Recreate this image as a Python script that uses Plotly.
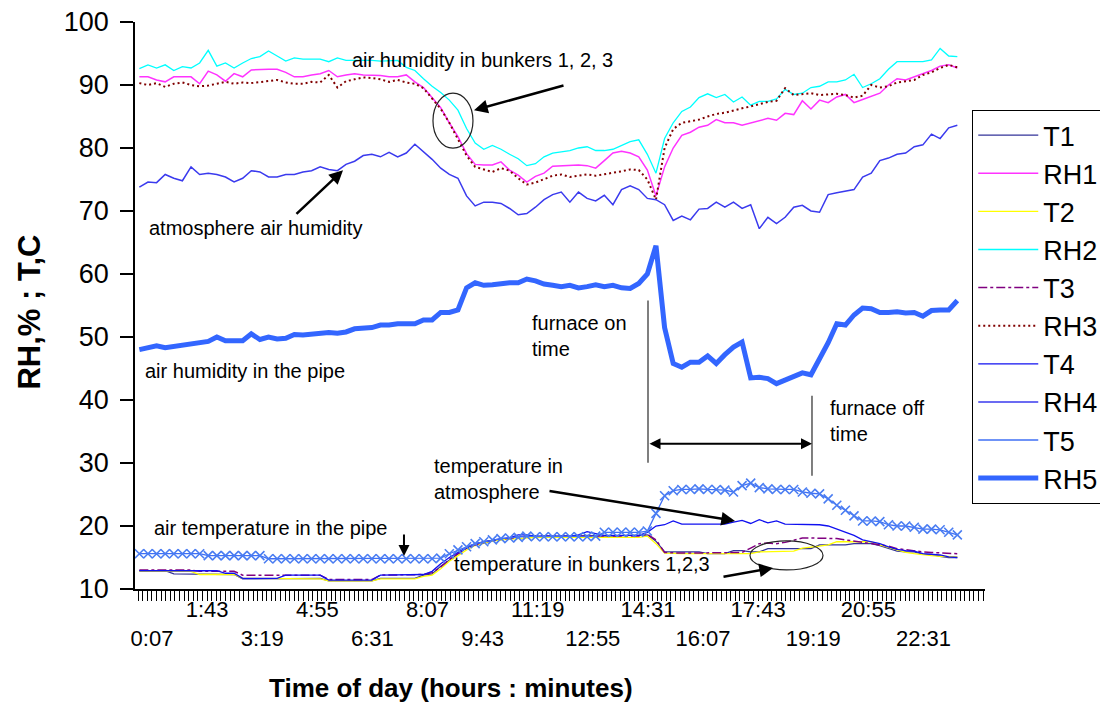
import plotly.graph_objects as go

# sample times (minutes from midnight), one reading every 15 min
time_min = list(range(-15, 1411, 15))

tick_vals = [7, 103, 199, 295, 391, 487, 583, 679, 775, 871, 967, 1063, 1159, 1255, 1351]
tick_labels = ["0:07", "1:43", "3:19", "4:55", "6:31", "8:07", "9:43", "11:19",
               "12:55", "14:31", "16:07", "17:43", "19:19", "20:55", "22:31"]

T1 = [12.9, 12.9, 12.9, 12.9, 12.4, 12.4, 12.4, 12.3, 12.3, 12.3,
      12.3, 12.3, 11.6, 11.6, 11.6, 11.6, 11.6, 11.7, 11.7, 11.7,
      11.7, 11.7, 11.3, 11.3, 11.3, 11.3, 11.3, 11.3, 11.7, 11.7,
      11.7, 11.7, 11.7, 12.2, 12.4, 13.6, 14.6, 15.6, 16.5, 17.1,
      17.5, 17.7, 17.8, 18.0, 18.3, 18.3, 18.3, 18.3, 18.4, 18.4,
      18.4, 18.4, 18.5, 18.4, 18.4, 18.4, 18.5, 18.5, 18.5, 18.6,
      17.6, 15.9, 15.9, 15.9, 15.9, 15.9, 15.6, 15.6, 15.6, 16.1,
      16.1, 15.9, 15.9, 16.4, 16.4, 16.4, 16.4, 16.4, 16.4, 17.0,
      17.0, 17.0, 17.0, 17.2, 17.2, 17.2, 16.9, 16.5, 16.0, 15.9,
      15.9, 15.5, 15.5, 15.2, 15.0, 15.0]
RH1 = [91.3, 91.3, 90.8, 90.5, 91.3, 91.3, 91.3, 90.2, 92.2, 91.6,
       90.6, 91.8, 91.3, 92.4, 92.5, 92.5, 92.5, 92.0, 91.3, 91.3,
       91.6, 91.8, 92.3, 91.3, 91.6, 91.8, 91.6, 91.6, 91.5, 91.3,
       91.3, 91.6, 90.5, 89.6, 88.0, 86.4, 84.0, 81.8, 79.1, 77.4,
       77.3, 77.3, 77.8, 76.5, 75.7, 74.6, 75.5, 76.0, 77.1, 77.2,
       77.3, 77.3, 77.2, 76.8, 78.0, 79.2, 79.5, 79.2, 78.6, 76.5,
       72.4, 77.0, 80.0, 82.0, 82.5, 83.3, 83.6, 84.5, 84.0, 84.0,
       83.6, 84.0, 84.4, 84.7, 84.4, 85.5, 85.3, 87.5, 86.2, 87.6,
       87.2, 88.1, 88.5, 87.2, 87.7, 88.2, 88.7, 90.0, 91.0, 90.8,
       91.3, 91.8, 92.3, 93.0, 93.2, 92.7]
T2 = [12.8, 12.8, 12.8, 12.8, 12.8, 12.8, 12.8, 12.3, 12.3, 12.3,
      12.3, 12.3, 11.7, 11.7, 11.7, 11.7, 11.7, 11.6, 11.6, 11.6,
      11.6, 11.6, 11.3, 11.3, 11.3, 11.3, 11.3, 11.3, 11.6, 11.6,
      11.6, 11.6, 11.6, 12.0, 12.2, 13.2, 14.4, 15.3, 16.2, 16.9,
      17.3, 17.6, 17.8, 17.9, 18.1, 18.2, 18.2, 18.2, 18.2, 18.2,
      18.2, 18.2, 18.2, 18.2, 18.2, 18.2, 18.2, 18.2, 18.2, 18.4,
      17.2, 15.7, 15.6, 15.6, 15.6, 15.6, 15.6, 15.6, 15.6, 15.6,
      15.6, 15.6, 15.9, 15.9, 15.9, 15.9, 16.0, 16.5, 16.6, 16.8,
      17.0, 17.5, 17.5, 17.5, 17.5, 17.5, 17.0, 16.6, 16.2, 15.8,
      15.6, 15.4, 15.3, 15.2, 15.1, 15.1]
RH2 = [92.6, 93.2, 92.7, 93.2, 92.3, 92.9, 92.7, 93.5, 95.5, 93.0,
       93.5, 92.7, 93.5, 94.2, 94.5, 95.4, 94.6, 93.8, 94.3, 94.1,
       94.1, 94.1, 93.7, 94.3, 93.9, 93.9, 94.0, 93.9, 93.8, 93.9,
       93.9, 92.8, 92.3, 91.0, 89.8, 88.8, 87.6, 86.0, 83.1, 80.8,
       79.8, 80.4, 79.8, 79.0, 78.3, 77.2, 77.5, 78.6, 79.2, 79.4,
       79.6, 80.0, 80.2, 79.6, 79.6, 79.8, 80.4, 81.0, 81.3, 79.0,
       76.0, 81.5, 84.0, 85.8, 86.5, 88.0, 88.6, 88.0, 88.5, 87.3,
       88.1, 86.8, 87.4, 87.4, 87.8, 89.3, 88.5, 88.7, 89.6, 89.8,
       90.5, 90.5, 90.8, 91.7, 89.6, 90.2, 91.0, 92.5, 93.7, 93.7,
       93.7, 93.7, 94.0, 95.8, 94.6, 94.5]
T3 = [13.0, 13.0, 13.0, 13.0, 13.0, 13.0, 13.0, 12.8, 12.8, 12.8,
      12.8, 12.8, 12.2, 12.2, 12.2, 12.2, 12.2, 12.2, 12.2, 12.2,
      12.2, 12.2, 11.5, 11.5, 11.5, 11.5, 11.5, 11.5, 12.2, 12.2,
      12.2, 12.2, 12.2, 12.3, 12.6, 13.5, 14.7, 15.6, 16.5, 17.0,
      17.4, 17.7, 17.9, 18.0, 18.2, 18.4, 18.4, 18.4, 18.4, 18.4,
      18.4, 18.4, 18.4, 18.4, 18.4, 18.4, 18.4, 18.4, 18.4, 18.7,
      17.8, 15.8, 15.7, 15.7, 15.7, 15.7, 15.7, 15.7, 15.7, 15.7,
      15.8, 16.5, 17.2, 17.3, 17.2, 17.4, 17.8, 18.1, 18.1, 18.1,
      18.1, 18.0, 17.8, 17.6, 17.4, 17.2, 17.0, 16.8, 16.4, 16.2,
      16.0, 15.9, 15.8, 15.7, 15.6, 15.6]
RH3 = [90.3, 90.0, 90.3, 89.7, 90.2, 90.4, 90.0, 89.8, 89.9, 90.2,
       90.5, 90.2, 90.4, 90.3, 90.5, 90.6, 90.8, 90.4, 90.2, 90.2,
       90.5, 90.4, 91.6, 89.6, 90.6, 90.9, 91.2, 91.1, 90.9, 90.5,
       90.8, 90.4, 90.2, 89.5, 87.8, 86.2, 84.0, 81.5, 78.8, 77.0,
       76.6, 76.2, 76.8, 76.4, 75.2, 74.2, 74.5, 75.0, 75.6, 75.8,
       75.4, 75.6, 75.8, 75.6, 75.8, 76.0, 76.3, 76.6, 76.5, 75.0,
       71.8, 80.0, 83.0, 84.0, 84.2, 84.5, 85.0, 85.4, 85.6, 86.0,
       86.3, 86.6, 87.0, 87.3, 87.5, 89.5, 88.4, 88.6, 88.7, 88.4,
       88.5, 88.6, 88.4, 88.0, 88.3, 90.0, 89.6, 89.8, 90.4, 90.6,
       90.8, 91.6, 92.0, 92.7, 93.2, 92.8]
T4 = [12.9, 12.9, 12.9, 12.9, 12.9, 12.9, 12.9, 12.9, 12.9, 12.9,
      12.5, 12.5, 11.7, 11.7, 11.7, 11.7, 11.7, 12.2, 12.2, 12.2,
      12.2, 12.2, 11.4, 11.4, 11.4, 11.4, 11.4, 11.4, 12.2, 12.2,
      12.2, 12.2, 12.2, 12.3, 12.8, 14.0, 15.0, 15.8, 16.6, 17.2,
      17.5, 17.8, 18.0, 18.1, 18.6, 18.6, 18.4, 18.4, 18.4, 18.4,
      18.4, 18.6, 19.1, 18.8, 18.5, 18.5, 18.5, 18.5, 18.5, 19.0,
      20.0, 20.2, 20.8, 20.3, 20.3, 20.3, 20.3, 20.3, 20.3, 20.6,
      20.9, 20.4, 21.0, 20.5, 20.8, 20.3, 20.3, 20.3, 20.3, 20.2,
      20.0, 19.5, 19.1, 18.5, 17.8, 17.5, 17.2, 16.7, 16.3, 16.1,
      16.0, 15.6, 15.5, 15.4, 15.1, 15.0]
RH4 = [73.8, 74.6, 74.5, 75.8, 75.2, 74.8, 77.0, 75.8, 76.0, 75.8,
       75.4, 74.6, 75.2, 76.4, 76.2, 75.4, 75.4, 75.8, 75.8, 76.2,
       76.4, 77.0, 76.6, 76.4, 77.4, 77.9, 78.8, 79.0, 78.6, 79.3,
       78.6, 79.2, 80.6, 79.4, 78.2, 76.8, 75.8, 75.2, 72.4, 70.8,
       71.4, 71.4, 71.2, 70.4, 69.4, 69.6, 70.6, 71.8, 72.6, 73.0,
       71.4, 73.0, 72.0, 71.6, 72.5, 71.0, 73.4, 74.0, 73.4, 72.0,
       71.8, 71.0, 68.5, 69.2, 68.6, 70.3, 70.4, 71.4, 70.6, 71.4,
       70.4, 71.0, 67.2, 69.0, 68.0, 69.0, 70.6, 70.9, 70.0, 69.8,
       72.6, 72.9, 73.2, 73.4, 75.4, 76.0, 78.0, 78.4, 79.0, 79.2,
       80.2, 80.5, 82.2, 81.5, 83.2, 83.6]
T5 = [15.6, 15.6, 15.6, 15.6, 15.6, 15.6, 15.6, 15.6, 15.3, 15.3,
      15.3, 15.3, 15.3, 15.3, 15.3, 14.8, 14.8, 14.8, 14.8, 14.8,
      14.8, 14.8, 14.8, 14.8, 14.8, 14.8, 14.8, 14.8, 14.8, 14.8,
      14.8, 14.8, 14.8, 14.8, 14.8, 14.9, 15.6, 16.2, 16.7, 17.2,
      17.5, 17.8, 18.0, 18.1, 18.2, 18.4, 18.3, 18.3, 18.3, 18.3,
      18.3, 18.3, 18.3, 18.4, 19.0, 19.0, 19.0, 19.0, 19.0, 19.2,
      22.0, 24.8, 25.6, 25.8, 25.8, 25.9, 25.8, 25.8, 25.7, 25.4,
      26.4, 26.8, 26.1, 25.9, 25.8, 25.8, 25.8, 25.4, 25.2, 25.1,
      24.3, 23.3, 22.5, 21.6, 20.8, 20.8, 20.7, 20.2, 20.0, 20.0,
      19.8, 19.5, 19.5, 19.4, 19.0, 18.6]
RH5 = [48.0, 48.2, 48.6, 48.3, 48.5, 48.9, 48.9, 49.2, 49.3, 50.0,
       49.4, 49.4, 49.4, 50.5, 49.6, 50.0, 49.7, 49.8, 50.4, 50.3,
       50.4, 50.6, 50.7, 50.6, 50.8, 51.3, 51.4, 51.5, 51.9, 51.9,
       52.1, 52.1, 52.1, 52.7, 52.7, 53.9, 53.9, 54.3, 57.8, 58.6,
       58.2, 58.3, 58.5, 58.6, 58.6, 59.2, 58.9, 58.4, 58.2, 58.0,
       58.2, 57.8, 58.0, 58.3, 58.0, 58.2, 57.8, 57.7, 58.5, 60.0,
       64.5, 51.5, 45.8, 45.2, 46.0, 46.0, 47.0, 45.8, 47.2, 48.4,
       49.2, 43.5, 43.6, 43.4, 42.6, 43.2, 43.6, 44.3, 44.0, 46.5,
       49.1, 52.1, 51.9, 53.5, 54.6, 54.5, 53.9, 53.9, 54.0, 53.8,
       53.9, 53.3, 54.2, 54.3, 54.3, 55.8]

FONT = "Liberation Sans, Arial, sans-serif"

fig = go.Figure()

def add_line(name, y, color, width=1.3, dash="solid", legend=True):
    fig.add_trace(go.Scatter(x=time_min, y=y, name=name, mode="lines",
                             line=dict(color=color, width=width, dash=dash),
                             showlegend=legend))

add_line("T1", T1, "#333399")
add_line("RH1", RH1, "#FF33FF", 1.5)
add_line("T2", T2, "#FFFF00")
add_line("RH2", RH2, "#00FFFF")
add_line("T3", T3, "#800080", 1.5, "dashdot")
add_line("RH3", RH3, "#800000", 2, "2px,3px")
add_line("T4", T4, "#1010F0")
add_line("RH4", RH4, "#3A3AEE", 1.5)
add_line("T5", T5, "#3F6FF5", 1.3)
fig.add_trace(go.Scatter(x=time_min, y=T5, mode="markers", showlegend=False,
                         marker=dict(symbol="x-thin", size=9,
                                     line=dict(color="#4A7DF2", width=1.6))))
add_line("RH5", RH5, "#3366FF", 5)

# text annotations
texts = [
    ("air humidity in bunkers 1, 2, 3", 352, 93.96),
    ("atmosphere air humidity", -1.7, 67.24),
    ("air humidity in the pipe", -8.7, 44.67),
    ("furnace on<br>time", 665.5, 50.23),
    ("furnace off<br>time", 1184.7, 36.71),
    ("temperature in<br>atmosphere", 494.8, 27.49),
    ("air temperature in the pipe", 7, 19.70),
    ("temperature in bunkers 1,2,3", 529.6, 13.98),
]
for txt, xx, yy in texts:
    fig.add_annotation(x=xx, y=yy, text=txt, showarrow=False, xanchor="left",
                       yanchor="middle", align="left",
                       font=dict(family=FONT, size=20, color="black"))

# arrows (head x, head y, tail x, tail y)
arrows = [
    (568.0, 86.0, 726.5, 89.98, 2.5),
    (339.8, 76.47, 256.1, 69.31, 2.5),
    (1022.7, 20.81, 696.9, 25.59, 2.5),
    (446.0, 15.25, 446.0, 18.9, 2.0),
    (1088.9, 13.34, 1000.0, 11.91, 2.5),
]
for hx, hy, tx, ty, w in arrows:
    fig.add_annotation(x=hx, y=hy, ax=tx, ay=ty, xref="x", yref="y",
                       axref="x", ayref="y", text="", showarrow=True,
                       arrowhead=2, arrowsize=1.1, arrowwidth=w,
                       arrowcolor="black", standoff=0)
# double arrow between furnace on/off
fig.add_annotation(x=1156.8, y=33.06, ax=871.1, ay=33.06, xref="x", yref="y",
                   axref="x", ayref="y", text="", showarrow=True,
                   arrowhead=2, startarrowhead=2, arrowside="end+start",
                   arrowsize=1.1, startarrowsize=1.1, arrowwidth=2,
                   arrowcolor="black", standoff=0, startstandoff=0)

shapes = [
    dict(type="line", x0=871.1, x1=871.1, y0=30.04, y1=55.8,
         line=dict(color="#555555", width=1.5)),
    dict(type="line", x0=1156.8, x1=1156.8, y0=27.97, y1=40.69,
         line=dict(color="#555555", width=1.5)),
    dict(type="circle", x0=496.5, x1=566.2, y0=79.97, y1=88.71,
         line=dict(color="#222222", width=1.2)),
    dict(type="circle", x0=1048.8, x1=1176.0, y0=13.02, y1=17.63,
         line=dict(color="#222222", width=1.2)),
]

stagger = [(" <br>" + lab) if i % 2 == 0 else lab for i, lab in enumerate(tick_labels)]

fig.update_layout(
    width=1108, height=702,
    margin=dict(l=127, r=131, t=14, b=121, autoexpand=False),
    paper_bgcolor="white", plot_bgcolor="white",
    font=dict(family=FONT, color="black"),
    shapes=shapes,
    showlegend=True,
    legend=dict(x=0.985, y=0.8445, xanchor="left", yanchor="top",
                bordercolor="black", borderwidth=1, bgcolor="white",
                font=dict(family=FONT, size=27, color="black"),
                itemwidth=60, tracegroupgap=0),
    xaxis=dict(range=[-22.6, 1458.2], showgrid=False, zeroline=False,
               showline=True, linecolor="black", linewidth=1.5,
               tickmode="array", tickvals=tick_vals, ticktext=stagger,
               tickangle=0, ticklabelstandoff=-10,
               ticks="outside", ticklen=10, tickwidth=1, tickcolor="black",
               tickfont=dict(family=FONT, size=22, color="black"),
               minor=dict(tickmode="linear", tick0=7, dtick=8, ticks="outside",
                          ticklen=10, tickwidth=1, tickcolor="black",
                          showgrid=False)),
    yaxis=dict(range=[10, 100], showgrid=False, zeroline=False,
               showline=True, linecolor="black", linewidth=1.5,
               tickmode="array", tickvals=[10, 20, 30, 40, 50, 60, 70, 80, 90, 100],
               ticks="outside", ticklen=13, tickwidth=1.5, tickcolor="black",
               tickfont=dict(family=FONT, size=27, color="black"),
               ticklabelstandoff=6, ticklabeloverflow="allow"),
)

fig.add_annotation(x=0.3718, y=-0.175, xref="paper", yref="paper",
                   text="<b>Time of day (hours : minutes)</b>", showarrow=False,
                   xanchor="center", yanchor="middle",
                   font=dict(family=FONT, size=26, color="black"))
fig.add_annotation(x=-0.1235, y=0.4876, xref="paper", yref="paper",
                   text="<b>RH,% ; T,C</b>", showarrow=False, textangle=-90,
                   xanchor="center", yanchor="middle",
                   font=dict(family=FONT, size=31, color="black"))

fig.write_html("out.html")
